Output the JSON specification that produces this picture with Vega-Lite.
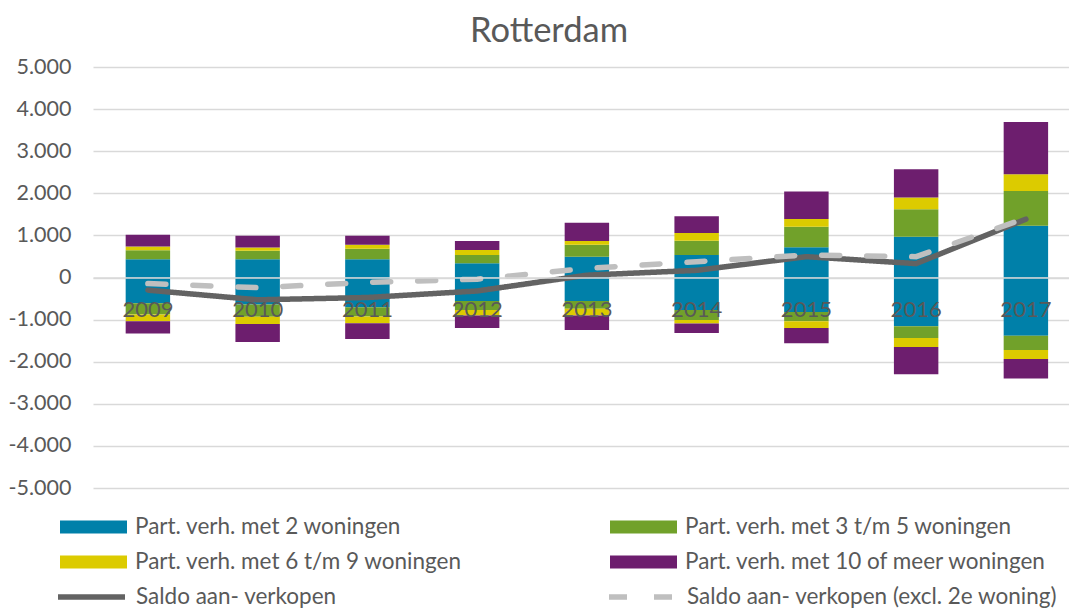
{
  "$schema": "https://vega.github.io/schema/vega-lite/v6.json",
  "width": 976,
  "height": 421,
  "autosize": {"type": "none"},
  "padding": {"left": 93, "top": 67, "right": 0, "bottom": 120},
  "background": "white",
  "title": {"text": "Rotterdam", "fontSize": 34.5, "font": "Lato", "fontWeight": "normal", "color": "#595959", "anchor": "middle", "frame": "group", "dx": -32, "offset": 7},
  "config": {
    "locale": {"number": {"decimal": ",", "thousands": ".", "grouping": [3], "currency": ["€", ""], "minus": "-"}},
    "view": {"stroke": null},
    "font": "Lato"
  },
  "datasets": {
    "bars": [
      {"jaar": "2009", "serie": "Part. verh. met 2 woningen", "volgorde": 1, "waarde": 433},
      {"jaar": "2009", "serie": "Part. verh. met 3 t/m 5 woningen", "volgorde": 2, "waarde": 216},
      {"jaar": "2009", "serie": "Part. verh. met 6 t/m 9 woningen", "volgorde": 3, "waarde": 87},
      {"jaar": "2009", "serie": "Part. verh. met 10 of meer woningen", "volgorde": 4, "waarde": 281},
      {"jaar": "2009", "serie": "Part. verh. met 2 woningen", "volgorde": 1, "waarde": -610},
      {"jaar": "2009", "serie": "Part. verh. met 3 t/m 5 woningen", "volgorde": 2, "waarde": -270},
      {"jaar": "2009", "serie": "Part. verh. met 6 t/m 9 woningen", "volgorde": 3, "waarde": -160},
      {"jaar": "2009", "serie": "Part. verh. met 10 of meer woningen", "volgorde": 4, "waarde": -290},
      {"jaar": "2010", "serie": "Part. verh. met 2 woningen", "volgorde": 1, "waarde": 433},
      {"jaar": "2010", "serie": "Part. verh. met 3 t/m 5 woningen", "volgorde": 2, "waarde": 200},
      {"jaar": "2010", "serie": "Part. verh. met 6 t/m 9 woningen", "volgorde": 3, "waarde": 80},
      {"jaar": "2010", "serie": "Part. verh. met 10 of meer woningen", "volgorde": 4, "waarde": 280},
      {"jaar": "2010", "serie": "Part. verh. met 2 woningen", "volgorde": 1, "waarde": -640},
      {"jaar": "2010", "serie": "Part. verh. met 3 t/m 5 woningen", "volgorde": 2, "waarde": -290},
      {"jaar": "2010", "serie": "Part. verh. met 6 t/m 9 woningen", "volgorde": 3, "waarde": -175},
      {"jaar": "2010", "serie": "Part. verh. met 10 of meer woningen", "volgorde": 4, "waarde": -425},
      {"jaar": "2011", "serie": "Part. verh. met 2 woningen", "volgorde": 1, "waarde": 433},
      {"jaar": "2011", "serie": "Part. verh. met 3 t/m 5 woningen", "volgorde": 2, "waarde": 247},
      {"jaar": "2011", "serie": "Part. verh. met 6 t/m 9 woningen", "volgorde": 3, "waarde": 96},
      {"jaar": "2011", "serie": "Part. verh. met 10 of meer woningen", "volgorde": 4, "waarde": 217},
      {"jaar": "2011", "serie": "Part. verh. met 2 woningen", "volgorde": 1, "waarde": -705},
      {"jaar": "2011", "serie": "Part. verh. met 3 t/m 5 woningen", "volgorde": 2, "waarde": -220},
      {"jaar": "2011", "serie": "Part. verh. met 6 t/m 9 woningen", "volgorde": 3, "waarde": -160},
      {"jaar": "2011", "serie": "Part. verh. met 10 of meer woningen", "volgorde": 4, "waarde": -375},
      {"jaar": "2012", "serie": "Part. verh. met 2 woningen", "volgorde": 1, "waarde": 336},
      {"jaar": "2012", "serie": "Part. verh. met 3 t/m 5 woningen", "volgorde": 2, "waarde": 200},
      {"jaar": "2012", "serie": "Part. verh. met 6 t/m 9 woningen", "volgorde": 3, "waarde": 120},
      {"jaar": "2012", "serie": "Part. verh. met 10 of meer woningen", "volgorde": 4, "waarde": 209},
      {"jaar": "2012", "serie": "Part. verh. met 2 woningen", "volgorde": 1, "waarde": -560},
      {"jaar": "2012", "serie": "Part. verh. met 3 t/m 5 woningen", "volgorde": 2, "waarde": -210},
      {"jaar": "2012", "serie": "Part. verh. met 6 t/m 9 woningen", "volgorde": 3, "waarde": -135},
      {"jaar": "2012", "serie": "Part. verh. met 10 of meer woningen", "volgorde": 4, "waarde": -295},
      {"jaar": "2013", "serie": "Part. verh. met 2 woningen", "volgorde": 1, "waarde": 495},
      {"jaar": "2013", "serie": "Part. verh. met 3 t/m 5 woningen", "volgorde": 2, "waarde": 281},
      {"jaar": "2013", "serie": "Part. verh. met 6 t/m 9 woningen", "volgorde": 3, "waarde": 89},
      {"jaar": "2013", "serie": "Part. verh. met 10 of meer woningen", "volgorde": 4, "waarde": 433},
      {"jaar": "2013", "serie": "Part. verh. met 2 woningen", "volgorde": 1, "waarde": -560},
      {"jaar": "2013", "serie": "Part. verh. met 3 t/m 5 woningen", "volgorde": 2, "waarde": -185},
      {"jaar": "2013", "serie": "Part. verh. met 6 t/m 9 woningen", "volgorde": 3, "waarde": -160},
      {"jaar": "2013", "serie": "Part. verh. met 10 of meer woningen", "volgorde": 4, "waarde": -340},
      {"jaar": "2014", "serie": "Part. verh. met 2 woningen", "volgorde": 1, "waarde": 536},
      {"jaar": "2014", "serie": "Part. verh. met 3 t/m 5 woningen", "volgorde": 2, "waarde": 337},
      {"jaar": "2014", "serie": "Part. verh. met 6 t/m 9 woningen", "volgorde": 3, "waarde": 185},
      {"jaar": "2014", "serie": "Part. verh. met 10 of meer woningen", "volgorde": 4, "waarde": 399},
      {"jaar": "2014", "serie": "Part. verh. met 2 woningen", "volgorde": 1, "waarde": -770},
      {"jaar": "2014", "serie": "Part. verh. met 3 t/m 5 woningen", "volgorde": 2, "waarde": -240},
      {"jaar": "2014", "serie": "Part. verh. met 6 t/m 9 woningen", "volgorde": 3, "waarde": -80},
      {"jaar": "2014", "serie": "Part. verh. met 10 of meer woningen", "volgorde": 4, "waarde": -230},
      {"jaar": "2015", "serie": "Part. verh. met 2 woningen", "volgorde": 1, "waarde": 716},
      {"jaar": "2015", "serie": "Part. verh. met 3 t/m 5 woningen", "volgorde": 2, "waarde": 490},
      {"jaar": "2015", "serie": "Part. verh. met 6 t/m 9 woningen", "volgorde": 3, "waarde": 182},
      {"jaar": "2015", "serie": "Part. verh. met 10 of meer woningen", "volgorde": 4, "waarde": 652},
      {"jaar": "2015", "serie": "Part. verh. met 2 woningen", "volgorde": 1, "waarde": -820},
      {"jaar": "2015", "serie": "Part. verh. met 3 t/m 5 woningen", "volgorde": 2, "waarde": -220},
      {"jaar": "2015", "serie": "Part. verh. met 6 t/m 9 woningen", "volgorde": 3, "waarde": -160},
      {"jaar": "2015", "serie": "Part. verh. met 10 of meer woningen", "volgorde": 4, "waarde": -360},
      {"jaar": "2016", "serie": "Part. verh. met 2 woningen", "volgorde": 1, "waarde": 970},
      {"jaar": "2016", "serie": "Part. verh. met 3 t/m 5 woningen", "volgorde": 2, "waarde": 654},
      {"jaar": "2016", "serie": "Part. verh. met 6 t/m 9 woningen", "volgorde": 3, "waarde": 274},
      {"jaar": "2016", "serie": "Part. verh. met 10 of meer woningen", "volgorde": 4, "waarde": 672},
      {"jaar": "2016", "serie": "Part. verh. met 2 woningen", "volgorde": 1, "waarde": -1160},
      {"jaar": "2016", "serie": "Part. verh. met 3 t/m 5 woningen", "volgorde": 2, "waarde": -280},
      {"jaar": "2016", "serie": "Part. verh. met 6 t/m 9 woningen", "volgorde": 3, "waarde": -210},
      {"jaar": "2016", "serie": "Part. verh. met 10 of meer woningen", "volgorde": 4, "waarde": -650},
      {"jaar": "2017", "serie": "Part. verh. met 2 woningen", "volgorde": 1, "waarde": 1230},
      {"jaar": "2017", "serie": "Part. verh. met 3 t/m 5 woningen", "volgorde": 2, "waarde": 827},
      {"jaar": "2017", "serie": "Part. verh. met 6 t/m 9 woningen", "volgorde": 3, "waarde": 395},
      {"jaar": "2017", "serie": "Part. verh. met 10 of meer woningen", "volgorde": 4, "waarde": 1243},
      {"jaar": "2017", "serie": "Part. verh. met 2 woningen", "volgorde": 1, "waarde": -1385},
      {"jaar": "2017", "serie": "Part. verh. met 3 t/m 5 woningen", "volgorde": 2, "waarde": -335},
      {"jaar": "2017", "serie": "Part. verh. met 6 t/m 9 woningen", "volgorde": 3, "waarde": -215},
      {"jaar": "2017", "serie": "Part. verh. met 10 of meer woningen", "volgorde": 4, "waarde": -465}
    ],
    "lines": [
      {"jaar": "2009", "serie": "Saldo aan- verkopen", "waarde": -300},
      {"jaar": "2010", "serie": "Saldo aan- verkopen", "waarde": -530},
      {"jaar": "2011", "serie": "Saldo aan- verkopen", "waarde": -475},
      {"jaar": "2012", "serie": "Saldo aan- verkopen", "waarde": -320},
      {"jaar": "2013", "serie": "Saldo aan- verkopen", "waarde": 55},
      {"jaar": "2014", "serie": "Saldo aan- verkopen", "waarde": 170},
      {"jaar": "2015", "serie": "Saldo aan- verkopen", "waarde": 495},
      {"jaar": "2016", "serie": "Saldo aan- verkopen", "waarde": 330},
      {"jaar": "2017", "serie": "Saldo aan- verkopen", "waarde": 1385},
      {"jaar": "2009", "serie": "Saldo aan- verkopen (excl. 2e woning)", "waarde": -145},
      {"jaar": "2010", "serie": "Saldo aan- verkopen (excl. 2e woning)", "waarde": -240},
      {"jaar": "2011", "serie": "Saldo aan- verkopen (excl. 2e woning)", "waarde": -115},
      {"jaar": "2012", "serie": "Saldo aan- verkopen (excl. 2e woning)", "waarde": -40},
      {"jaar": "2013", "serie": "Saldo aan- verkopen (excl. 2e woning)", "waarde": 215},
      {"jaar": "2014", "serie": "Saldo aan- verkopen (excl. 2e woning)", "waarde": 375},
      {"jaar": "2015", "serie": "Saldo aan- verkopen (excl. 2e woning)", "waarde": 535},
      {"jaar": "2016", "serie": "Saldo aan- verkopen (excl. 2e woning)", "waarde": 495},
      {"jaar": "2017", "serie": "Saldo aan- verkopen (excl. 2e woning)", "waarde": 1410}
    ]
  },
  "encoding": {
    "x": {
      "field": "jaar",
      "type": "nominal",
      "scale": {"paddingInner": 0.595, "paddingOuter": 0.244, "align": 0.61},
      "axis": {"title": null, "orient": "bottom", "offset": -210.5, "domain": true, "domainColor": "#d9d9d9", "domainWidth": 1.5, "ticks": false, "labelPadding": 22, "labelFontSize": 22, "labelFont": "Lato", "labelColor": "#595959", "labelAngle": 0, "zindex": 1}
    }
  },
  "layer": [
    {
      "data": {"name": "bars"},
      "mark": {"type": "bar"},
      "encoding": {
        "y": {
          "field": "waarde",
          "type": "quantitative",
          "stack": "zero",
          "scale": {"domain": [-5000, 5000]},
          "axis": {"title": null, "values": [-5000, -4000, -3000, -2000, -1000, 0, 1000, 2000, 3000, 4000, 5000], "format": ",d", "grid": true, "gridColor": "#d9d9d9", "gridWidth": 1.5, "domain": false, "ticks": false, "labelPadding": 22, "labelFontSize": 21.5, "labelFont": "Lato", "labelColor": "#595959"}
        },
        "fill": {
          "field": "serie",
          "type": "nominal",
          "scale": {
            "domain": ["Part. verh. met 2 woningen", "Part. verh. met 3 t/m 5 woningen", "Part. verh. met 6 t/m 9 woningen", "Part. verh. met 10 of meer woningen"],
            "range": ["#0080a9", "#71a12a", "#dccb00", "#6d1e6e"]
          },
          "legend": {"orient": "none", "direction": "horizontal", "legendX": -33, "legendY": 448, "columns": 2, "columnPadding": 147, "rowPadding": 11, "clipHeight": 24, "symbolType": "M-1,-0.194H1V0.194H-1Z", "symbolSize": 4489, "symbolStrokeWidth": 0, "symbolOpacity": 1, "labelFontSize": 22.5, "labelFont": "Lato", "labelColor": "#595959", "labelOffset": 8, "labelLimit": 600, "title": null}
        },
        "order": {"field": "volgorde", "type": "quantitative"}
      }
    },
    {
      "data": {"name": "lines"},
      "mark": {"type": "line", "strokeWidth": 5.5, "strokeCap": "round"},
      "encoding": {
        "y": {"field": "waarde", "type": "quantitative"},
        "stroke": {
          "field": "serie",
          "type": "nominal",
          "scale": {"domain": ["Saldo aan- verkopen", "Saldo aan- verkopen (excl. 2e woning)"], "range": ["#636363", "#bfbfbf"]},
          "legend": {"orient": "none", "direction": "horizontal", "legendX": -38, "legendY": 518, "columns": 2, "columnPadding": 269, "rowPadding": 11, "clipHeight": 24, "symbolType": "stroke", "symbolSize": 4489, "symbolStrokeWidth": 5.5, "labelFontSize": 22.5, "labelFont": "Lato", "labelColor": "#595959", "labelOffset": 8, "labelLimit": 600, "title": null}
        },
        "strokeDash": {
          "field": "serie",
          "type": "nominal",
          "scale": {"domain": ["Saldo aan- verkopen", "Saldo aan- verkopen (excl. 2e woning)"], "range": [[1, 0], [18, 27]]},
          "legend": {"orient": "none", "direction": "horizontal", "legendX": -38, "legendY": 518, "columns": 2, "columnPadding": 269, "rowPadding": 11, "clipHeight": 24, "symbolType": "stroke", "symbolSize": 4489, "symbolStrokeWidth": 5.5, "labelFontSize": 22.5, "labelFont": "Lato", "labelColor": "#595959", "labelOffset": 8, "labelLimit": 600, "title": null}
        }
      }
    }
  ]
}
